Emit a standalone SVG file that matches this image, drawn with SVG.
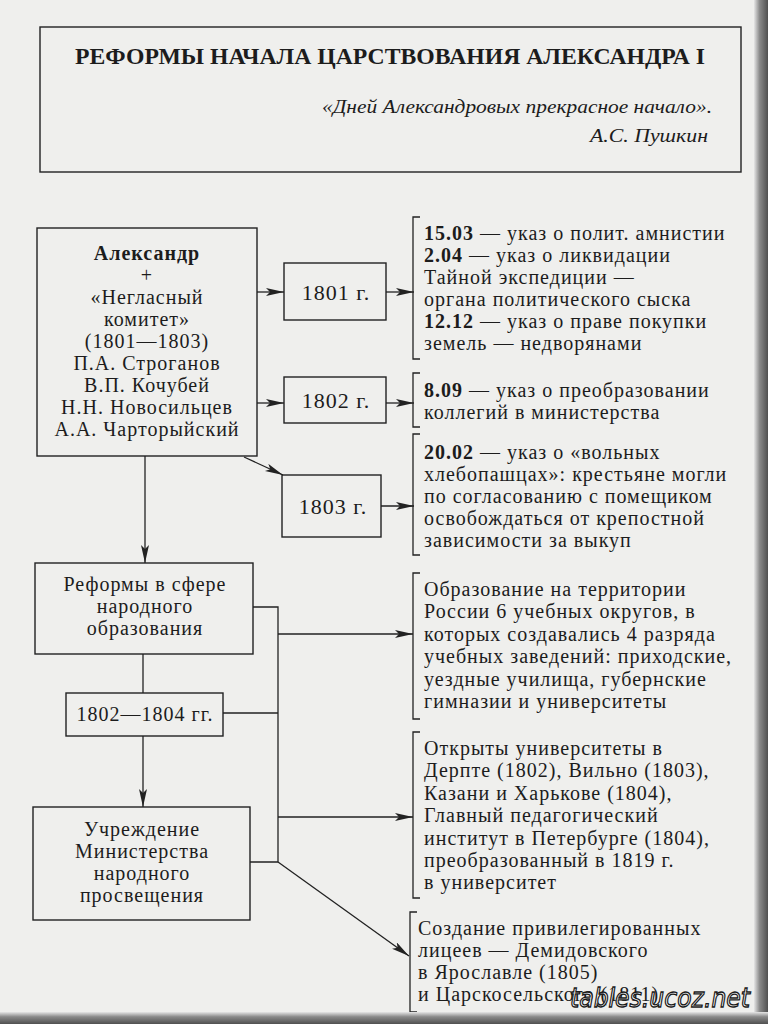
<svg xmlns="http://www.w3.org/2000/svg" width="768" height="1024" viewBox="0 0 768 1024">
<defs>
<style>
.t{font-family:'Liberation Serif','Times New Roman','DejaVu Serif',serif;font-size:20px;fill:#1c1c1c;letter-spacing:1px}
.c{text-anchor:middle}
.b{font-weight:bold}
.yr{font-size:22px}
.box{fill:none;stroke:#222;stroke-width:1.4}
.ln{fill:none;stroke:#222;stroke-width:1.3}
.arr{marker-end:url(#ah)}
.br{fill:none;stroke:#222;stroke-width:1.3}
</style>
<marker id="ah" markerUnits="userSpaceOnUse" markerWidth="20" markerHeight="10" refX="18" refY="4" orient="auto">
<path d="M0,0 L18,4 L0,8 L4,4 Z" fill="#222"/>
</marker>
<linearGradient id="gr" x1="0" y1="0" x2="1" y2="0">
<stop offset="0" stop-color="#e6e6e6"/>
<stop offset="0.4" stop-color="#8a8a8a"/>
<stop offset="1" stop-color="#505050"/>
</linearGradient>
<linearGradient id="gb" x1="0" y1="0" x2="0" y2="1">
<stop offset="0" stop-color="#e6e6e6"/>
<stop offset="0.4" stop-color="#8a8a8a"/>
<stop offset="1" stop-color="#505050"/>
</linearGradient>
</defs>
<rect width="768" height="1024" fill="#efefed"/>

<g id="header">
<rect class="box" x="40" y="27" width="701" height="145"/>
<text class="t b" x="75" y="64" style="font-size:22.5px;letter-spacing:0" textLength="630" lengthAdjust="spacingAndGlyphs">РЕФОРМЫ НАЧАЛА ЦАРСТВОВАНИЯ АЛЕКСАНДРА I</text>
<text class="t" x="322" y="113" style="font-size:18px;font-style:italic;letter-spacing:0" textLength="390" lengthAdjust="spacingAndGlyphs">«Дней Александровых прекрасное начало».</text>
<text class="t" x="590" y="142" style="font-size:18px;font-style:italic;letter-spacing:0" textLength="118" lengthAdjust="spacingAndGlyphs">А.С. Пушкин</text>
</g>

<g id="connectors">
<line class="ln arr" x1="257" y1="292" x2="284" y2="292"/>
<line class="ln arr" x1="257" y1="403" x2="284" y2="403"/>
<line class="ln arr" x1="244" y1="457" x2="283" y2="475"/>
<line class="ln arr" x1="386" y1="292" x2="414" y2="292"/>
<line class="ln arr" x1="386" y1="403" x2="414" y2="403"/>
<line class="ln arr" x1="381" y1="506" x2="414" y2="506"/>
<line class="ln arr" x1="145" y1="456" x2="145" y2="563"/>
<line class="ln" x1="143" y1="654" x2="143" y2="693"/>
<line class="ln arr" x1="143" y1="736" x2="143" y2="807"/>
<polyline class="ln" points="253,607 278,607 278,862 250,862"/>
<line class="ln" x1="223" y1="713" x2="278" y2="713"/>
<line class="ln arr" x1="278" y1="634" x2="413" y2="634"/>
<line class="ln arr" x1="278" y1="817" x2="413" y2="817"/>
<line class="ln arr" x1="278" y1="862" x2="409" y2="956"/>
</g>

<g id="alexander">
<rect class="box" x="37" y="228" width="220" height="228"/>
<text class="t c b" x="147" y="260">Александр</text>
<text class="t c" x="147" y="282">+</text>
<text class="t c" x="147" y="304">«Негласный</text>
<text class="t c" x="147" y="326">комитет»</text>
<text class="t c" x="147" y="348">(1801—1803)</text>
<text class="t c" x="147" y="370">П.А. Строганов</text>
<text class="t c" x="147" y="392">В.П. Кочубей</text>
<text class="t c" x="147" y="414">Н.Н. Новосильцев</text>
<text class="t c" x="147" y="436">А.А. Чарторыйский</text>
</g>

<g id="y1801">
<rect class="box" x="284" y="263" width="102" height="57"/>
<text class="t c yr" x="336" y="300">1801 г.</text>
</g>
<g id="y1802">
<rect class="box" x="284" y="377" width="102" height="46"/>
<text class="t c yr" x="336" y="408">1802 г.</text>
</g>
<g id="y1803">
<rect class="box" x="282" y="475" width="99" height="62"/>
<text class="t c yr" x="333" y="514">1803 г.</text>
</g>

<g id="d1801">
<path class="br" d="M420,217 H413 V359 H420"/>
<text class="t" x="424" y="240"><tspan class="b">15.03</tspan> — указ о полит. амнистии</text>
<text class="t" x="424" y="262"><tspan class="b">2.04</tspan> — указ о ликвидации</text>
<text class="t" x="424" y="284">Тайной экспедиции —</text>
<text class="t" x="424" y="306">органа политического сыска</text>
<text class="t" x="424" y="328"><tspan class="b">12.12</tspan> — указ о праве покупки</text>
<text class="t" x="424" y="350">земель — недворянами</text>
</g>

<g id="d1802">
<path class="br" d="M420,373 H413 V427 H420"/>
<text class="t" x="424" y="397"><tspan class="b">8.09</tspan> — указ о преобразовании</text>
<text class="t" x="424" y="419">коллегий в министерства</text>
</g>

<g id="d1803">
<path class="br" d="M420,434 H413 V555 H420"/>
<text class="t" x="424" y="459"><tspan class="b">20.02</tspan> — указ о «вольных</text>
<text class="t" x="424" y="481">хлебопашцах»: крестьяне могли</text>
<text class="t" x="424" y="503">по согласованию с помещиком</text>
<text class="t" x="424" y="525">освобождаться от крепостной</text>
<text class="t" x="424" y="547">зависимости за выкуп</text>
</g>

<g id="reforms">
<rect class="box" x="35" y="563" width="218" height="91"/>
<text class="t c" x="145" y="591">Реформы в сфере</text>
<text class="t c" x="145" y="613">народного</text>
<text class="t c" x="145" y="635">образования</text>
</g>

<g id="years">
<rect class="box" x="66" y="693" width="157" height="43"/>
<text class="t c" x="145" y="721">1802—1804 гг.</text>
</g>

<g id="ministry">
<rect class="box" x="33" y="807" width="217" height="113"/>
<text class="t c" x="142" y="836">Учреждение</text>
<text class="t c" x="142" y="858">Министерства</text>
<text class="t c" x="142" y="880">народного</text>
<text class="t c" x="142" y="902">просвещения</text>
</g>

<g id="okruga">
<path class="br" d="M420,573 H413 V719 H420"/>
<text class="t" x="424" y="596">Образование на территории</text>
<text class="t" x="424" y="618">России 6 учебных округов, в</text>
<text class="t" x="424" y="641">которых создавались 4 разряда</text>
<text class="t" x="424" y="663">учебных заведений: приходские,</text>
<text class="t" x="424" y="686">уездные училища, губернские</text>
<text class="t" x="424" y="708">гимназии и университеты</text>
</g>

<g id="universities">
<path class="br" d="M420,732 H413 V898 H420"/>
<text class="t" x="424" y="755">Открыты университеты в</text>
<text class="t" x="424" y="777">Дерпте (1802), Вильно (1803),</text>
<text class="t" x="424" y="800">Казани и Харькове (1804),</text>
<text class="t" x="424" y="822">Главный педагогический</text>
<text class="t" x="424" y="845">институт в Петербурге (1804),</text>
<text class="t" x="424" y="867">преобразованный в 1819 г.</text>
<text class="t" x="424" y="889">в университет</text>
</g>

<g id="lyceums">
<path class="br" d="M417,912 H410 V1012 H417"/>
<text class="t" x="418" y="935">Создание привилегированных</text>
<text class="t" x="418" y="957">лицеев — Демидовского</text>
<text class="t" x="418" y="979">в Ярославле (1805)</text>
<text class="t" x="418" y="1001">и Царскосельского (1811)</text>
</g>

<rect x="754" y="0" width="14" height="1024" fill="url(#gr)"/>
<rect x="0" y="1012" width="768" height="12" fill="url(#gb)"/>
<text x="570" y="1007" font-family="'DejaVu Sans',sans-serif" font-size="26" font-style="italic" fill="#ffffff" stroke="#1a1a1a" stroke-width="1.3" textLength="180" lengthAdjust="spacingAndGlyphs">tables.ucoz.net</text>
</svg>
